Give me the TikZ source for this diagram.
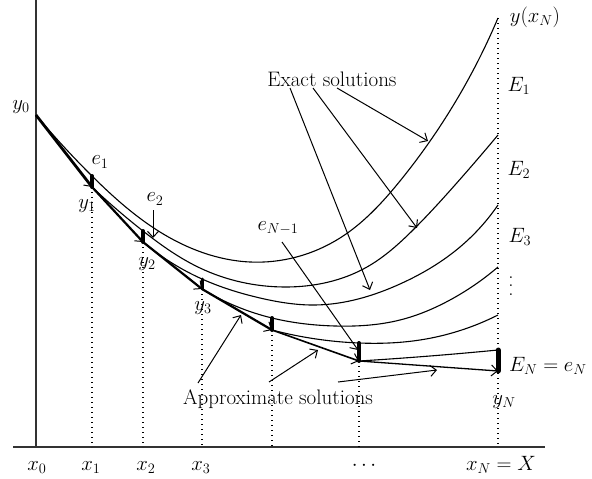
\documentclass[tikz,border=0pt]{standalone}
\usetikzlibrary{arrows.meta,hobby}
\begin{document}
\begin{tikzpicture}[x=1pt,y=-1pt,
  axisline/.style={line width=1.3pt, draw=black!80},
  curve/.style={line width=1.1pt, use Hobby shortcut},
  euler/.style={line width=2.2pt, -{Straight Barb[length=6pt,width=11pt,line width=1pt]}},
  errbar/.style={line width=4pt, line cap=round},
  gridline/.style={line width=1.2pt, dash pattern=on 1.2pt off 3.8pt},
  ptr/.style={line width=1pt, -{Straight Barb[length=6pt,width=11pt,line width=1pt]}},
  lbl/.style={font=\fontsize{21}{24}\selectfont, inner sep=0pt}
]
\useasboundingbox (0,0) rectangle (592,479);
% axes
\coordinate (ytop) at (36,0);
\coordinate (orig) at (36,447);
\coordinate (xl) at (13,447);
\coordinate (xr) at (545,447);
\draw[axisline] (ytop) -- (orig);
\draw[axisline] (xl) -- (xr);
% points
\coordinate (Y0) at (36,115);
\coordinate (Y1) at (92,187);  \coordinate (T1) at (92,176);
\coordinate (Y2) at (143,242); \coordinate (T2) at (143,231);
\coordinate (Y3) at (202,289); \coordinate (T3) at (202,279);
\coordinate (Y4) at (272,330); \coordinate (T4) at (272,318);
\coordinate (Y5) at (359,361); \coordinate (T5) at (359,343);
\coordinate (Y6) at (498,371); \coordinate (T6) at (498,350);
\coordinate (F1) at (92,447);
\coordinate (F2) at (143,447);
\coordinate (F3) at (202,447);
\coordinate (F4) at (272,447);
\coordinate (F5) at (359,447);
\coordinate (F6) at (498,447);
\coordinate (G6) at (498,18);
% dotted verticals
\draw[gridline] (Y1) -- (F1);
\draw[gridline] (Y2) -- (F2);
\draw[gridline] (Y3) -- (F3);
\draw[gridline] (Y4) -- (F4);
\draw[gridline] (Y5) -- (F5);
\draw[gridline] (G6) -- (F6);
% exact solutions
\draw[curve] (36,115) .. (92,176) .. (160,232) .. (250,262) .. (340,238) .. (400,181) .. (498,18);
\draw[curve] (92,187) .. (143,231) .. (200,268) .. (285,287) .. (367,267) .. (413,230) .. (455,185) .. (498,135);
\draw[curve] (143,242) .. (202,279) .. (260,298) .. (315,305) .. (400,284) .. (460,247) .. (498,205);
\draw[curve] (202,289) .. (272,318) .. (335,326) .. (400,320) .. (450,300) .. (498,267);
\draw[curve] (272,330) .. (359,343) .. (420,340) .. (498,315);
\draw[curve] (359,361) .. (430,356) .. (498,350);
% Euler steps
\draw[euler, line width=2.8pt] (Y0) -- (Y1);
\draw[euler] (Y1) -- (Y2);
\draw[euler] (Y2) -- (Y3);
\draw[euler] (Y3) -- (Y4);
\draw[euler, line width=1.6pt] (Y4) -- (Y5);
\draw[euler, line width=1.3pt] (Y5) -- (Y6);
% error bars
\draw[errbar] (T1) -- (Y1);
\draw[errbar] (T2) -- (Y2);
\draw[errbar, line width=3pt] (T3) -- (Y3);
\draw[errbar] (T4) -- (Y4);
\draw[errbar] (T5) -- (Y5);
\draw[errbar, line width=5pt] (T6) -- (Y6);
% labels
\node[lbl] (ly0) at (21,107) {$y_0$};
\node[lbl] (le1) at (100,162) {$e_1$};
\node[lbl] (ly1) at (87,206) {$y_1$};
\node[lbl] (le2) at (155,199) {$e_2$};
\node[lbl] (ly2) at (147,264) {$y_2$};
\node[lbl] (ly3) at (203,308) {$y_3$};
\node[lbl] (leN1) at (278,228) {$e_{N-1}$};
\node[lbl] (lyxN) at (535,17) {$y(x_N)$};
\node[lbl] (lE1) at (519,86) {$E_1$};
\node[lbl] (lE2) at (519,170) {$E_2$};
\node[lbl] (lE3) at (520,237) {$E_3$};
\node[lbl] (ldots) at (511,286) {\vbox{\baselineskip=8.5pt\lineskiplimit=0pt\hbox{.}\hbox{.}\hbox{.}}};
\node[lbl, anchor=west] (lEN) at (509,366) {$E_N = e_N$};
\node[lbl] (lyN) at (504,402) {$y_N$};
\node[lbl] (exact) at (332,79) {Exact solutions};
\node[lbl] (approx) at (278,399) {Approximate solutions};
\node[lbl, anchor=base] (lx0) at (37,470) {$x_0$};
\node[lbl, anchor=base] (lx1) at (91,470) {$x_1$};
\node[lbl, anchor=base] (lx2) at (146,470) {$x_2$};
\node[lbl, anchor=base] (lx3) at (201,470) {$x_3$};
\node[lbl, anchor=base] (lxd) at (364,470) {$\cdots$};
\node[lbl, anchor=base] (lxN) at (501,470) {$x_N = X$};
% pointer arrows
\coordinate (xs1) at (337,88);  \coordinate (xt1) at (428,141);
\coordinate (xs2) at (313,88);  \coordinate (xt2) at (417,228);
\coordinate (xs3) at (290,88);  \coordinate (xt3) at (370,290);
\draw[ptr] (xs1) -- (xt1);
\draw[ptr] (xs2) -- (xt2);
\draw[ptr] (xs3) -- (xt3);
\coordinate (es2) at (153,210); \coordinate (et2) at (153,238);
\draw[ptr] (es2) -- (et2);
\coordinate (esN) at (282,242); \coordinate (etN) at (358,350);
\draw[ptr] (esN) -- (etN);
\coordinate (as1) at (198,383); \coordinate (at1) at (241,315);
\coordinate (as2) at (269,382); \coordinate (at2) at (318,350);
\coordinate (as3) at (338,382); \coordinate (at3) at (437,370);
\draw[ptr] (as1) -- (at1);
\draw[ptr] (as2) -- (at2);
\draw[ptr] (as3) -- (at3);
\end{tikzpicture}
\end{document}
